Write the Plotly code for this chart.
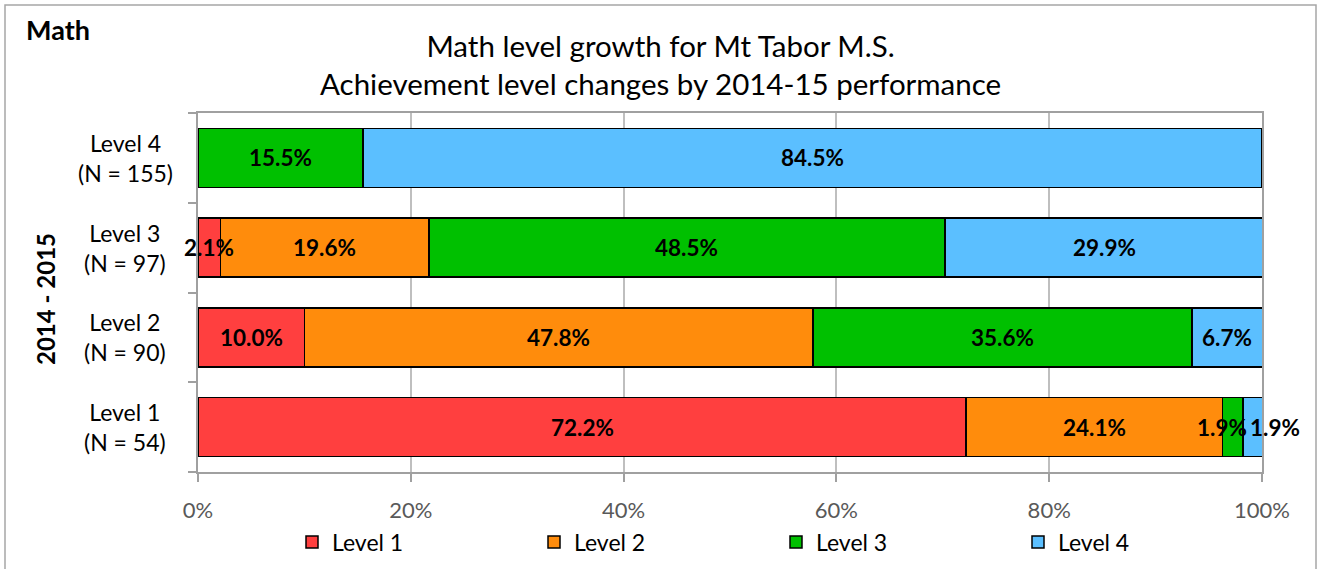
import plotly.graph_objects as go

categories = ["Level 1", "Level 2", "Level 3", "Level 4"]
cat_labels = ["Level 1<br>(N = 54)", "Level 2<br>(N = 90)", "Level 3<br>(N = 97)", "Level 4<br>(N = 155)"]
series_names = ["Level 1", "Level 2", "Level 3", "Level 4"]
level1 = [72.2, 10.0, 2.1, 0.0]
level2 = [24.1, 47.8, 19.6, 0.0]
level3 = [1.9, 35.6, 48.5, 15.5]
level4 = [1.9, 6.7, 29.9, 84.5]
x_ticks = [0, 20, 40, 60, 80, 100]
x_tick_labels = ["0%", "20%", "40%", "60%", "80%", "100%"]

colors = ["#FF3F3F", "#FF8C0C", "#00C000", "#5BBFFF"]
FONT = "Lato"
series = [level1, level2, level3, level4]
# small nudges for crowded labels (category index, series index) -> px shift
label_nudge = {(0, 2): -11, (0, 3): 22}

fig = go.Figure()
for name, vals, col in zip(series_names, series, colors):
    fig.add_trace(go.Bar(
        y=categories, x=vals, name=name, orientation="h",
        marker=dict(color=col, line=dict(color="#000000", width=1.5)),
        textposition="none", hoverinfo="x+name",
    ))

W, H = 1321, 569
ml, mr, mt, mb = 198, 59, 113, 97
pw, ph = W - ml - mr, H - mt - mb

def px_x(px):
    return (px - ml) / pw

def px_y(py):
    return (H - mb - py) / ph

fig.update_layout(
    width=W, height=H,
    barmode="stack", bargap=0.34,
    plot_bgcolor="white", paper_bgcolor="white",
    margin=dict(l=ml, r=mr, t=mt, b=mb, autoexpand=False),
    font=dict(family=FONT, size=22, color="#000000"),
    legend=dict(
        orientation="h", xref="container", x=292 / W, xanchor="left",
        yref="container", y=(H - 542) / H, yanchor="middle",
        entrywidth=197, entrywidthmode="pixels",
        font=dict(family=FONT, size=23, color="#000000"),
        traceorder="normal", itemwidth=30, bgcolor="rgba(0,0,0,0)",
    ),
    showlegend=True,
)

fig.update_xaxes(
    range=[0, 100], tickvals=x_ticks, ticktext=x_tick_labels,
    showgrid=True, gridcolor="#BFBFBF", gridwidth=1.5,
    showline=True, linecolor="#A0A0A0", linewidth=1.5, mirror=True,
    ticks="outside", ticklen=8, tickcolor="#A0A0A0", tickwidth=1.5,
    ticklabelstandoff=10,
    tickfont=dict(family=FONT, size=22, color="#595959"),
    zeroline=False, fixedrange=True,
)
fig.update_yaxes(
    type="category", categoryorder="array", categoryarray=categories,
    showticklabels=False, tickson="boundaries",
    ticks="outside", ticklen=8, tickcolor="#A0A0A0", tickwidth=1.5,
    showline=True, linecolor="#A0A0A0", linewidth=1.5, mirror=True,
    showgrid=False, fixedrange=True,
)

# title
fig.add_annotation(
    x=px_x(660.5), xref="paper", y=px_y(64.5), yref="paper",
    text="Math level growth for Mt Tabor M.S.<br>Achievement level changes by 2014-15 performance",
    showarrow=False, xanchor="center", yanchor="middle", align="center",
    font=dict(family=FONT, size=29.5, color="#000000"),
)

# data labels centred on each segment
for i, cat in enumerate(categories):
    start = 0.0
    for j, vals in enumerate(series):
        v = vals[i]
        if v > 0:
            fig.add_annotation(
                x=start + v / 2, xref="x", y=cat, yref="y", text=f"<b>{v:.1f}%</b>",
                showarrow=False, xanchor="center", yanchor="middle",
                xshift=label_nudge.get((i, j), 0),
                font=dict(family=FONT, size=22.5, color="#000000"),
            )
        start += v

for cat, lab in zip(categories, cat_labels):
    fig.add_annotation(
        x=px_x(125), xref="paper", y=cat, yref="y", text=lab, showarrow=False,
        xanchor="center", yanchor="middle", align="center",
        font=dict(family=FONT, size=23, color="#000000"),
    )

fig.add_annotation(
    x=px_x(45), xref="paper", y=px_y(299), yref="paper", text="<b>2014 - 2015</b>",
    textangle=-90, showarrow=False, xanchor="center", yanchor="middle",
    font=dict(family=FONT, size=24, color="#000000"),
)
fig.add_annotation(
    x=px_x(24), xref="paper", y=px_y(29), yref="paper", text="<b>Math</b>",
    showarrow=False, xanchor="left", yanchor="middle",
    font=dict(family=FONT, size=27, color="#000000"),
)

fig.add_shape(
    type="rect", xref="paper", yref="paper",
    x0=px_x(5), x1=px_x(1316), y0=px_y(600), y1=px_y(5),
    line=dict(color="#A6A6A6", width=1.5), fillcolor="rgba(0,0,0,0)", layer="below",
)

fig.write_html(
    "out.html",
    config={"displayModeBar": False},
    post_script="document.body.style.margin='0';document.body.style.overflow='hidden';",
)
